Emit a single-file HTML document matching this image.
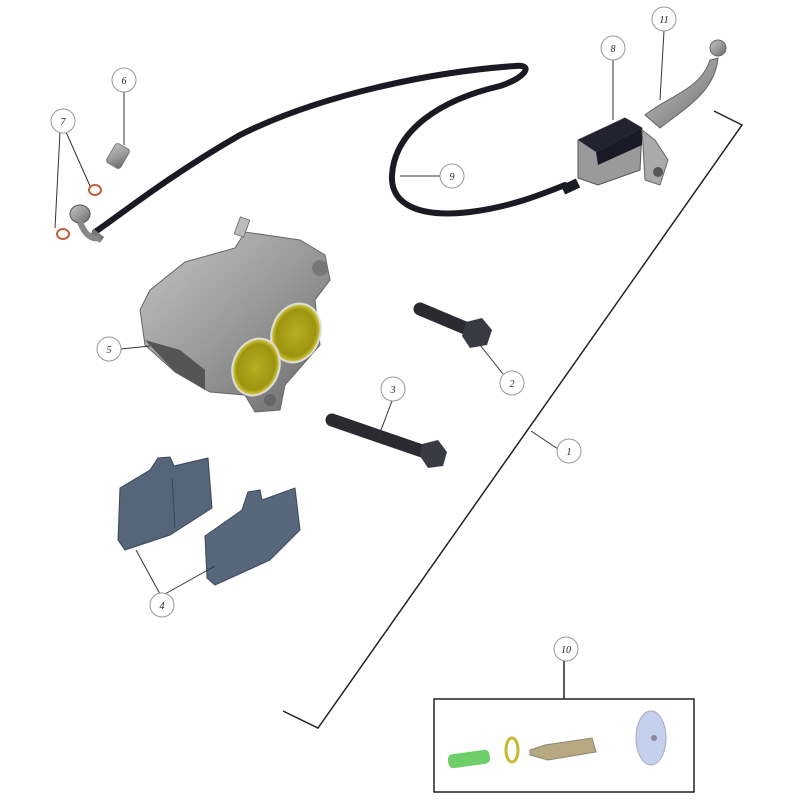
<!DOCTYPE html>
<html><head><style>html,body{margin:0;padding:0;background:#fff}svg{display:block}</style></head>
<body>
<svg width="800" height="800" viewBox="0 0 800 800" xmlns="http://www.w3.org/2000/svg" font-family="Liberation Serif, serif" font-style="italic">
<defs>
<linearGradient id="g" x1="0" y1="0" x2="1" y2="1"><stop offset="0" stop-color="#c4c4c4"/><stop offset="0.5" stop-color="#9a9a9a"/><stop offset="1" stop-color="#6a6a6a"/></linearGradient>
<radialGradient id="y" cx="0.5" cy="0.5" r="0.5"><stop offset="0" stop-color="#b7b020"/><stop offset="0.8" stop-color="#9c9410"/><stop offset="1" stop-color="#d8d040"/></radialGradient>
</defs>
<!-- bracket 1 -->
<polyline points="714,111 742,125 318,728 283,711" fill="none" stroke="#222" stroke-width="1.5"/>
<line x1="531" y1="431" x2="558" y2="449" stroke="#333" stroke-width="1"/>
<!-- hose -->
<path d="M95,232 C120,215 170,175 240,135 C320,95 430,72 515,66 C535,64 525,78 500,86 C440,100 395,130 392,175 C390,205 420,218 470,212 C510,207 540,195 565,185" fill="none" stroke="#1a1a24" stroke-width="6" stroke-linecap="round"/>
<!-- banjo -->
<path d="M92,232 L102,240" stroke="#777" stroke-width="7"/>
<ellipse cx="80" cy="214" rx="10" ry="9" fill="url(#g)" stroke="#555"/>
<path d="M80,222 C85,235 92,240 100,238" stroke="#888" stroke-width="6" fill="none"/>
<!-- o-rings -->
<ellipse cx="63" cy="234" rx="6" ry="5" fill="none" stroke="#c0603a" stroke-width="2"/>
<ellipse cx="95" cy="190" rx="6" ry="5" fill="none" stroke="#c0603a" stroke-width="2"/>
<!-- bleed 6 -->
<rect x="110" y="145" width="16" height="22" rx="3" fill="url(#g)" stroke="#777" transform="rotate(30 118 156)"/>
<!-- master cylinder -->
<path d="M563,190 L578,183" stroke="#1a1a24" stroke-width="10"/>
<path d="M578,140 L625,118 L642,128 L640,170 L598,185 L578,178Z" fill="#9a9a9a" stroke="#555"/>
<path d="M578,140 L625,118 L642,128 L596,152Z" fill="#222230"/>
<path d="M596,152 L642,128 L642,145 L598,165Z" fill="#1a1a26"/>
<path d="M642,130 L655,140 L668,160 L660,185 L645,180Z" fill="#aaa" stroke="#666"/>
<circle cx="658" cy="172" r="5" fill="#555"/>
<path d="M645,115 C670,95 700,90 710,60 L718,58 C715,90 690,105 660,128Z" fill="url(#g)" stroke="#666"/>
<circle cx="718" cy="48" r="8" fill="url(#g)" stroke="#666"/>
<!-- caliper -->
<path d="M150,290 L185,262 L235,248 L245,232 L300,240 L325,255 L330,280 L315,300 L320,345 L285,385 L280,410 L255,412 L245,395 L210,392 L175,372 L145,345 L140,310Z" fill="url(#g)" stroke="#666"/>
<path d="M145,340 L175,372 L205,390 L205,370 L180,350Z" fill="#555"/>
<rect x="237" y="218" width="10" height="18" fill="#bbb" stroke="#777" transform="rotate(20 242 227)"/>
<circle cx="320" cy="268" r="8" fill="#777"/>
<circle cx="270" cy="400" r="6" fill="#666"/>
<ellipse cx="296" cy="333" rx="24" ry="30" fill="url(#y)" stroke="#ddd" stroke-width="2" transform="rotate(20 296 333)"/>
<ellipse cx="256" cy="367" rx="23" ry="29" fill="url(#y)" stroke="#ddd" stroke-width="2" transform="rotate(20 256 367)"/>
<!-- bolts -->
<path d="M420,309 L470,330" stroke="#2a2a30" stroke-width="13" stroke-linecap="round"/>
<polygon points="466,322 482,318 492,330 487,345 470,348 462,336" fill="#3a3a44"/>
<path d="M332,420 L425,452" stroke="#2a2a30" stroke-width="13" stroke-linecap="round"/>
<polygon points="422,444 438,440 447,452 443,466 428,468 420,456" fill="#3a3a44"/>
<!-- pads -->
<path d="M120,488 L150,470 L158,458 L170,457 L174,466 L208,458 L212,508 L170,535 L125,550 L118,540Z" fill="#55657a" stroke="#3c4858"/>
<line x1="172" y1="478" x2="175" y2="528" stroke="#3c4858"/>
<path d="M205,536 L242,510 L248,492 L260,490 L262,500 L295,488 L300,530 L270,560 L215,585 L207,578Z" fill="#58687c" stroke="#3c4858"/>
<!-- box 10 -->
<rect x="434" y="699" width="260" height="93" fill="#fff" stroke="#222" stroke-width="1.5"/>
<line x1="564" y1="661" x2="564" y2="699" stroke="#222" stroke-width="1.5"/>
<rect x="448" y="752" width="42" height="14" rx="5" fill="#6ecf6a" transform="rotate(-8 469 759)"/>
<ellipse cx="512" cy="750" rx="6" ry="12" fill="none" stroke="#c8b830" stroke-width="3"/>
<path d="M530,750 L545,745 L592,738 L596,752 L548,760 L530,755Z" fill="#b8a880" stroke="#887"/>
<ellipse cx="651" cy="738" rx="15" ry="27" fill="#c4d0ee" stroke="#aab"/>
<circle cx="654" cy="738" r="3" fill="#889"/>
<!-- leaders -->
<g stroke="#333" stroke-width="1" fill="none">
<line x1="124" y1="92" x2="124" y2="145"/>
<line x1="60" y1="132" x2="55" y2="228"/>
<line x1="66" y1="132" x2="90" y2="186"/>
<line x1="613" y1="60" x2="613" y2="120"/>
<line x1="664" y1="31" x2="660" y2="100"/>
<line x1="440" y1="176" x2="400" y2="176"/>
<line x1="121" y1="349" x2="150" y2="346"/>
<line x1="503" y1="374" x2="480" y2="345"/>
<line x1="392" y1="401" x2="378" y2="438"/>
<line x1="160" y1="594" x2="136" y2="550"/>
<line x1="165" y1="594" x2="215" y2="566"/>
</g>
<g fill="#fff" stroke="#999" stroke-width="1">
<circle cx="124" cy="80" r="12"/><circle cx="63" cy="121" r="12"/><circle cx="613" cy="48" r="12"/>
<circle cx="664" cy="19" r="12"/><circle cx="452" cy="176" r="12"/><circle cx="109" cy="349" r="12"/>
<circle cx="512" cy="383" r="12"/><circle cx="393" cy="389" r="12"/><circle cx="569" cy="451" r="12"/>
<circle cx="162" cy="605" r="12"/><circle cx="566" cy="649" r="12"/>
</g>
<g font-size="10" fill="#222" text-anchor="middle">
<text x="124" y="84">6</text><text x="63" y="125">7</text><text x="613" y="52">8</text>
<text x="664" y="23">11</text><text x="452" y="180">9</text><text x="109" y="353">5</text>
<text x="512" y="387">2</text><text x="393" y="393">3</text><text x="569" y="455">1</text>
<text x="162" y="609">4</text><text x="566" y="653">10</text>
</g>
</svg>
</body></html>
